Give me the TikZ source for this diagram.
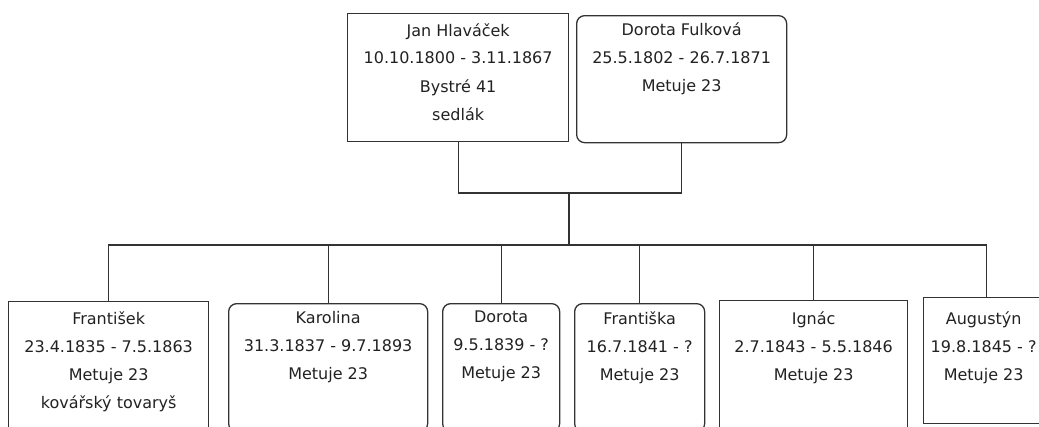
\documentclass[tikz,border=0pt]{standalone}
\usepackage{fontspec}
\setmainfont{DejaVu Sans}
\definecolor{lineC}{HTML}{333333}
\definecolor{textC}{HTML}{222222}
\tikzset{
  x=1pt, y=-1pt,
  person/.style={draw=lineC, line width=1.3pt, fill=white, anchor=north west, inner sep=0pt},
  roundp/.style={person, rounded corners=8pt},
  txt/.style={anchor=north, inner sep=0pt, align=center, text=textC,
    font=\fontsize{16}{28}\selectfont, execute at begin node={\rule{0pt}{16pt}}},
  link/.style={draw=lineC, line width=1.3pt}
}
\begin{document}
\begin{tikzpicture}
\useasboundingbox (0,0) rectangle (1039,426);
\clip (0,0) rectangle (1039,426);
\fill[white] (0,0) rectangle (1039,426);
\coordinate (toprow) at (0,23);
\coordinate (kidrow) at (0,311);
% parents
\node[person, minimum width=221pt, minimum height=128pt] (jan) at (347,13) {};
\node[roundp, minimum width=210pt, minimum height=127pt] (dor) at (576,15) {};
\node[txt] (jant) at (jan.north |- toprow) {Jan Hlaváček\\10.10.1800 - 3.11.1867\\Bystré 41\\sedlák};
\node[txt] (dort) at (dor.north |- toprow) {Dorota Fulková\\25.5.1802 - 26.7.1871\\Metuje 23};
% children
\node[person, minimum width=200pt, minimum height=140pt] (c1) at (8,301) {};
\node[roundp, minimum width=199pt, minimum height=128pt] (c2) at (228,303) {};
\node[roundp, minimum width=117pt, minimum height=128pt] (c3) at (442,303) {};
\node[roundp, minimum width=130pt, minimum height=128pt] (c4) at (574,303) {};
\node[person, minimum width=188pt, minimum height=140pt] (c5) at (719,300) {};
\node[person, minimum width=126pt, minimum height=126pt] (c6) at (923,297) {};
\node[txt] (c1t) at (c1.north |- kidrow) {František\\23.4.1835 - 7.5.1863\\Metuje 23\\kovářský tovaryš};
\node[txt] (c2t) at (c2.north |- kidrow) {Karolina\\31.3.1837 - 9.7.1893\\Metuje 23};
\node[txt] (c3t) at (c3.north |- kidrow) {Dorota\\9.5.1839 - ?\\Metuje 23};
\node[txt] (c4t) at (c4.north |- kidrow) {Františka\\16.7.1841 - ?\\Metuje 23};
\node[txt] (c5t) at (c5.north |- kidrow) {Ignác\\2.7.1843 - 5.5.1846\\Metuje 23};
\node[txt] (c6t) at ([xshift=-3pt]c6.north |- kidrow) {Augustýn\\19.8.1845 - ?\\Metuje 23};
% connectors
\coordinate (fam) at (569,193);
\coordinate (bus) at (569,245);
\draw[link] (jan.south) |- (fam) -| (dor.south);
\draw[link] (fam) -- (bus);
\foreach \c in {c1,c2,c3,c4,c5,c6} {
  \draw[link] (bus) -| (\c.north);
}
\end{tikzpicture}
\end{document}
